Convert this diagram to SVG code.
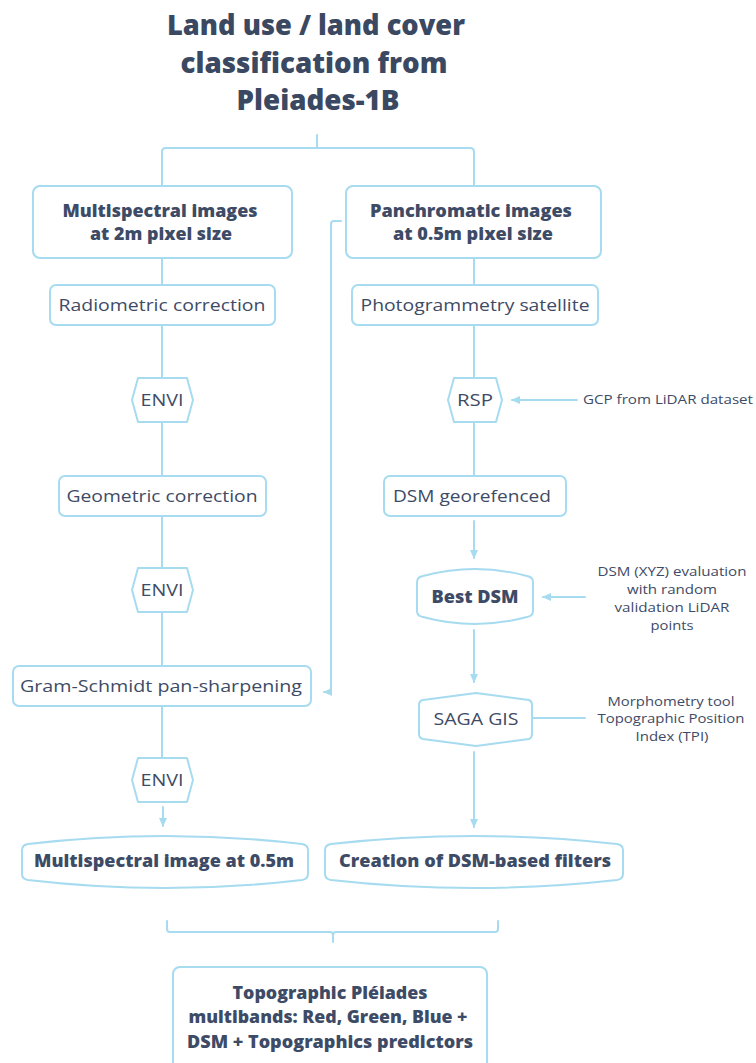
<svg xmlns="http://www.w3.org/2000/svg" width="756" height="1063" viewBox="0 0 756 1063">
<defs>
<style>
.box{fill:#ffffff;stroke:#a6dbf0;stroke-width:2;stroke-linejoin:round}
.ln{fill:none;stroke:#a6dbf0;stroke-width:2;stroke-linejoin:round;stroke-linecap:round}
.t{font-family:"Open Sans","Liberation Sans",sans-serif;fill:#3e4b66;text-anchor:middle}
.r{font-size:17px;font-weight:500}
.b{font-size:17px;font-weight:800}
.s{font-size:13px;font-weight:400}
.title{font-size:28px;font-weight:800;fill:#3b4862}
</style>
<marker id="ah" markerUnits="userSpaceOnUse" markerWidth="10" markerHeight="10" refX="8" refY="5" orient="auto">
<path d="M0,1 L9,5 L0,9 Z" fill="#a6dbf0"/>
</marker>
</defs>
<rect width="756" height="1063" fill="#ffffff"/>

<g id="connectors">
<path class="ln" d="M317,135 V148 M162,186 V152 Q162,148 166,148 H470 Q474,148 474,152 V186"/>
<path class="ln" d="M162,258 V285 M162,325 V378 M162,422 V476 M162,516 V568 M162,612 V666 M162,706 V757"/>
<path class="ln" d="M474,258 V285 M474,325 V378 M474,422 V476"/>
<path class="ln" d="M341,221 H334 Q331,221 331,224 V688 Q331,692 327,692 H324" marker-end="url(#ah)"/>
<path class="ln" d="M163,807 V826" marker-end="url(#ah)"/>
<path class="ln" d="M474,521 V558" marker-end="url(#ah)"/>
<path class="ln" d="M474,630 V682" marker-end="url(#ah)"/>
<path class="ln" d="M474,752 V827" marker-end="url(#ah)"/>
<path class="ln" d="M577,400 H512" marker-end="url(#ah)"/>
<path class="ln" d="M585,597 H543" marker-end="url(#ah)"/>
<path class="ln" d="M532,718 H585"/>
<path class="ln" d="M167,921 V929 Q167,932 170,932 H330 Q333,932 333,935 V942 M333,935 Q333,932 336,932 H495 Q498,932 498,929 V921"/>
</g>

<g id="title">
<text class="t title" x="316" y="35" textLength="298" lengthAdjust="spacingAndGlyphs">Land use / land cover</text>
<text class="t title" x="314" y="73" textLength="267" lengthAdjust="spacingAndGlyphs">classification from</text>
<text class="t title" x="318" y="110" textLength="163" lengthAdjust="spacingAndGlyphs">Pleiades-1B</text>
</g>

<g id="multispectral">
<rect class="box" x="33" y="186" width="259" height="72" rx="7"/>
<text class="t b" x="160" y="217" textLength="195" lengthAdjust="spacingAndGlyphs">Multispectral images</text>
<text class="t b" x="161" y="240" textLength="142" lengthAdjust="spacingAndGlyphs">at 2m pixel size</text>
</g>

<g id="panchromatic">
<rect class="box" x="346" y="186" width="255" height="72" rx="7"/>
<text class="t b" x="471" y="217" textLength="202" lengthAdjust="spacingAndGlyphs">Panchromatic images</text>
<text class="t b" x="473" y="240" textLength="160" lengthAdjust="spacingAndGlyphs">at 0.5m pixel size</text>
</g>

<g id="radiometric">
<rect class="box" x="50" y="285" width="225" height="40" rx="6"/>
<text class="t r" x="162" y="311" textLength="207" lengthAdjust="spacingAndGlyphs">Radiometric correction</text>
</g>

<g id="photogrammetry">
<rect class="box" x="352" y="285" width="246" height="40" rx="6"/>
<text class="t r" x="475" y="311" textLength="229" lengthAdjust="spacingAndGlyphs">Photogrammetry satellite</text>
</g>

<g id="envi1">
<polygon class="box" points="138,378 187,378 193,400 187,422 138,422 132,400"/>
<text class="t r" x="162" y="406" textLength="43" lengthAdjust="spacingAndGlyphs">ENVI</text>
</g>

<g id="rsp">
<polygon class="box" points="454,378 496,378 502,400 496,422 454,422 448,400"/>
<text class="t r" x="475" y="406" textLength="36" lengthAdjust="spacingAndGlyphs">RSP</text>
</g>

<g id="gcp">
<text class="t s" x="668" y="404" textLength="170" lengthAdjust="spacingAndGlyphs">GCP from LiDAR dataset</text>
</g>

<g id="geometric">
<rect class="box" x="59" y="476" width="207" height="40" rx="6"/>
<text class="t r" x="162" y="502" textLength="191" lengthAdjust="spacingAndGlyphs">Geometric correction</text>
</g>

<g id="dsmgeo">
<rect class="box" x="384" y="476" width="182" height="40" rx="6"/>
<text class="t r" x="472" y="502" textLength="158" lengthAdjust="spacingAndGlyphs">DSM georefenced</text>
</g>

<g id="envi2">
<polygon class="box" points="138,568 187,568 193,590 187,612 138,612 132,590"/>
<text class="t r" x="162" y="596" textLength="43" lengthAdjust="spacingAndGlyphs">ENVI</text>
</g>

<g id="bestdsm">
<path class="box" d="M417,582 Q417,577 423,576 Q475,562 527,576 Q533,577 533,582 L533,611 Q533,616 527,617 Q475,631 423,617 Q417,616 417,611 Z"/>
<text class="t b" x="475" y="603" textLength="87" lengthAdjust="spacingAndGlyphs">Best DSM</text>
</g>

<g id="evaluation">
<text class="t s" x="672" y="576" textLength="149" lengthAdjust="spacingAndGlyphs">DSM (XYZ) evaluation</text>
<text class="t s" x="672" y="594" textLength="90" lengthAdjust="spacingAndGlyphs">with random</text>
<text class="t s" x="672" y="612" textLength="115" lengthAdjust="spacingAndGlyphs">validation LiDAR</text>
<text class="t s" x="672" y="630" textLength="43" lengthAdjust="spacingAndGlyphs">points</text>
</g>

<g id="gramschmidt">
<rect class="box" x="13" y="666" width="298" height="40" rx="6"/>
<text class="t r" x="161" y="692" textLength="282" lengthAdjust="spacingAndGlyphs">Gram-Schmidt pan-sharpening</text>
</g>

<g id="saga">
<path class="box" d="M419,705 Q419,701 423,700 L476,693 L529,700 Q532,701 532,705 L532,734 Q532,738 529,739 L476,746 L423,739 Q419,738 419,734 Z"/>
<text class="t r" x="476" y="725" textLength="85" lengthAdjust="spacingAndGlyphs">SAGA GIS</text>
</g>

<g id="morphometry">
<text class="t s" x="671" y="706" textLength="127" lengthAdjust="spacingAndGlyphs">Morphometry tool</text>
<text class="t s" x="671" y="723" textLength="147" lengthAdjust="spacingAndGlyphs">Topographic Position</text>
<text class="t s" x="672" y="741" textLength="73" lengthAdjust="spacingAndGlyphs">Index (TPI)</text>
</g>

<g id="envi3">
<polygon class="box" points="138,758 187,758 193,780 187,802 138,802 132,780"/>
<text class="t r" x="162" y="786" textLength="43" lengthAdjust="spacingAndGlyphs">ENVI</text>
</g>

<g id="ms05">
<path class="box" d="M22,850 Q22,845 28,844 Q165,828 302,844 Q308,845 308,850 L308,874 Q308,879 302,880 Q165,896 28,880 Q22,879 22,874 Z"/>
<text class="t b" x="164" y="867" textLength="260" lengthAdjust="spacingAndGlyphs">Multispectral image at 0.5m</text>
</g>

<g id="creation">
<path class="box" d="M325,850 Q325,845 331,844 Q474,828 617,844 Q623,845 623,850 L623,874 Q623,879 617,880 Q474,896 331,880 Q325,879 325,874 Z"/>
<text class="t b" x="475" y="867" textLength="272" lengthAdjust="spacingAndGlyphs">Creation of DSM-based filters</text>
</g>

<g id="topographic">
<rect class="box" x="173" y="967" width="314" height="120" rx="7"/>
<text class="t b" x="330" y="999" textLength="195" lengthAdjust="spacingAndGlyphs">Topographic Pléiades</text>
<text class="t b" x="328" y="1023" textLength="279" lengthAdjust="spacingAndGlyphs">multibands: Red, Green, Blue +</text>
<text class="t b" x="330" y="1048" textLength="286" lengthAdjust="spacingAndGlyphs">DSM + Topographics predictors</text>
</g>
</svg>
